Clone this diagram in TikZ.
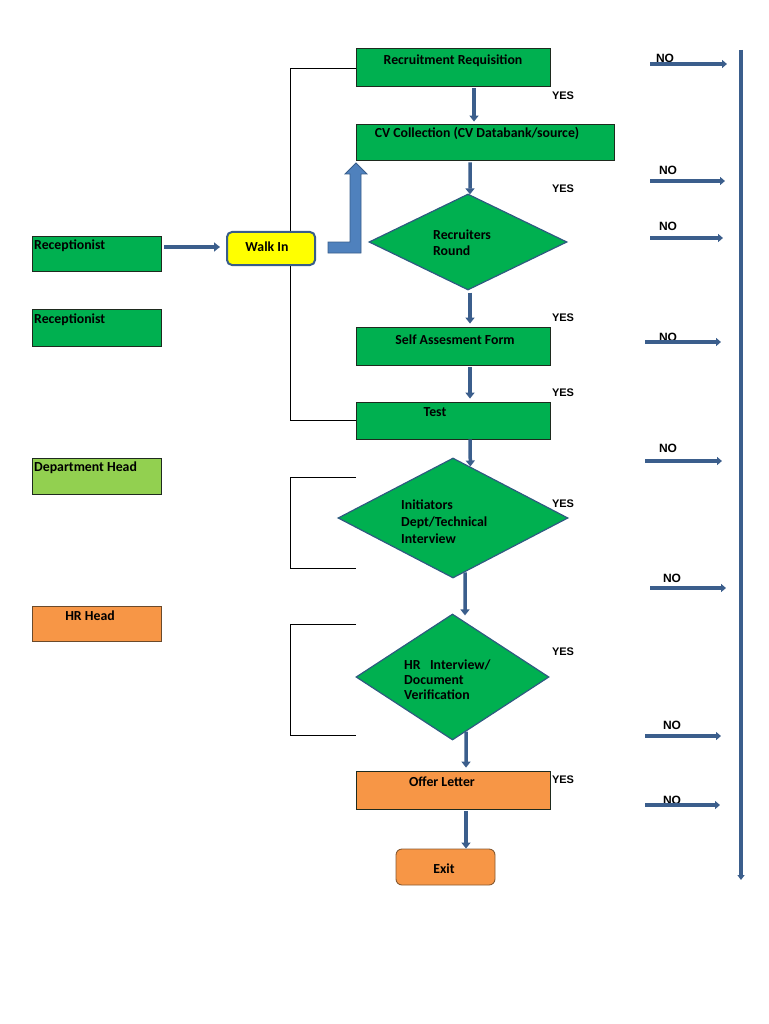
\documentclass[tikz,border=0pt]{standalone}
\usepackage{fontspec}
\setmainfont{Carlito}
\newfontfamily\arialf{Liberation Sans}
\usetikzlibrary{shapes.geometric,arrows.meta,calc,backgrounds}
\definecolor{gr}{HTML}{00B050}
\definecolor{lgr}{HTML}{92D050}
\definecolor{org}{HTML}{F79646}
\definecolor{ylw}{HTML}{FFFF00}
\definecolor{abl}{HTML}{3B5E8C}
\definecolor{bbl}{HTML}{4F81BD}
\definecolor{dbl}{HTML}{385D8A}
\definecolor{boxline}{HTML}{1E2A1E}
\definecolor{dmline}{HTML}{2E5A80}
\definecolor{orline}{HTML}{6B4A2B}
\begin{document}
\begin{tikzpicture}[x=1pt,y=-1pt,
  box/.style={draw=boxline, line width=0.8pt, fill=gr, inner sep=0pt},
  dmd/.style={diamond, draw=dmline, line width=1.2pt, fill=gr, inner sep=0pt, shape aspect=1},
  btxt/.style={font=\bfseries\fontsize{13.8}{16}\selectfont, text=black, inner sep=0pt},
  yes/.style={font=\arialf\bfseries\fontsize{11}{13}\selectfont, inner sep=0pt},
  flow/.style={draw=abl, line width=3.5pt, -{Triangle[width=9pt,length=6pt]}},
  noarr/.style={draw=abl, line width=3.5pt, -{Triangle[width=8pt,length=5pt]}},
  bracket/.style={draw=black, line width=0.9pt}]
\useasboundingbox (0,0) rectangle (768,1024);

% main column boxes
\node[box, minimum width=194pt, minimum height=38pt] (rr) at (453,67) {};
\node[btxt] (rrt) at (453,60.5) {Recruitment Requisition};
\node[box, minimum width=258pt, minimum height=36pt] (cv) at (485,142) {};
\node[btxt] (cvt) at (477,133.5) {CV Collection (CV Databank/source)};
\node[dmd, minimum width=198pt, minimum height=96pt] (rd) at (468,242) {};
\node[btxt, align=left, anchor=north west] (rdt) at (433,229.5) {Recruiters\\Round};
\node[box, minimum width=194pt, minimum height=38pt] (sa) at (453,346) {};
\node[btxt] (sat) at (455,339.5) {Self Assesment Form};
\node[box, minimum width=194pt, minimum height=37pt] (test) at (453,420.5) {};
\node[btxt] (testt) at (435,412.5) {Test};
\node[dmd, minimum width=230pt, minimum height=120pt] (ini) at (453,518) {};
\node[btxt, align=left, anchor=north west, font=\bfseries\fontsize{13.8}{17}\selectfont] (init) at (401,500) {Initiators\\Dept/Technical\\Interview};
\node[dmd, minimum width=193pt, minimum height=126pt] (hr) at (452.5,677) {};
\node[btxt, align=left, anchor=north west, font=\bfseries\fontsize{13.8}{15}\selectfont] (hrt) at (404,660) {HR\ \ \ Interview/\\Document\\Verification};
\node[box, fill=org, minimum width=194pt, minimum height=38pt] (offer) at (453,790) {};
\node[btxt] (offert) at (442,781.5) {Offer Letter};
\node[draw=orline!80!org, line width=0.9pt, fill=org, rounded corners=6pt, minimum width=99pt, minimum height=36pt, inner sep=0pt] (exit) at (445.5,867) {};
\node[btxt] (exitt) at (444,869) {Exit};

% left boxes
\node[box, minimum width=129pt, minimum height=35pt] (rec1) at (96.5,253.5) {};
\node[btxt, anchor=west] (rec1t) at (34,245.5) {Receptionist};
\node[box, minimum width=129pt, minimum height=37pt] (rec2) at (96.5,327.5) {};
\node[btxt, anchor=west] (rec2t) at (34,319.5) {Receptionist};
\node[box, fill=lgr, minimum width=129pt, minimum height=36pt] (dept) at (96.5,476) {};
\node[btxt, anchor=west] (deptt) at (34,467.5) {Department Head};
\node[box, fill=org, draw=orline, minimum width=129pt, minimum height=35pt] (hrh) at (96.5,623.5) {};
\node[btxt] (hrht) at (90,615.5) {HR Head};

% walk in
\node[draw=dbl, line width=2pt, fill=ylw, rounded corners=5pt, minimum width=88pt, minimum height=33pt, inner sep=0pt] (walk) at (271,248.5) {};
\node[btxt] (walkt) at (267,247) {Walk In};

% brackets behind
\begin{scope}[on background layer]
\draw[bracket] (rr.west |- 0,68) -- (290,68) -- (290,420) -- (test.west |- 0,420);
\coordinate (b2a) at (356,477); \coordinate (b2b) at (356,568);
\draw[bracket] (b2a) -- (290,477) -- (290,568) -- (b2b);
\coordinate (b3a) at (356,624); \coordinate (b3b) at (356,735);
\draw[bracket] (b3a) -- (290,624) -- (290,735) -- (b3b);
\end{scope}

% receptionist -> walk in
\draw[flow, shorten <=3pt, shorten >=6pt] (rec1.east |- 0,247) -- (walk.west |- 0,247);

% block arrow walk in -> CV collection
\draw[draw=dbl, line width=0.8pt, fill=bbl] (328,242) -- (350,242) -- (350,174) -- (345,174) -- (356,163) -- (367,174) -- (361,174) -- (361,253) -- (328,253) -- cycle;

% vertical flow arrows
\draw[flow, shorten <=2pt, shorten >=2pt] (rr.south -| 474,0) -- (cv.north -| 474,0);
\draw[flow, shorten <=2pt] (cv.south -| 470,0) -- ($(rd.north)!0.02!(rd.east)$);
\draw[flow, shorten <=2pt, shorten >=3pt] (rd.south -| 470,0) -- (sa.north -| 470,0);
\draw[flow, shorten <=2pt, shorten >=3pt] (sa.south -| 470,0) -- (test.north -| 470,0);
\draw[flow] (test.south -| 470,0) -- ($(ini.north)!0.15!(ini.east)$);
\draw[flow, shorten >=-2pt] ($(ini.south)!0.104!(ini.east)$) -- (hr.north -| 465,0);
\draw[flow, shorten >=3pt] ($(hr.south)!0.14!(hr.east)$) -- (offer.north -| 466,0);
\draw[flow, shorten <=2pt] (offer.south -| 466,0) -- (exit.north -| 466,0);

% YES labels
\node[yes] (y1) at (563,96) {YES};
\node[yes] (y2) at (563,189) {YES};
\node[yes] (y3) at (563,318) {YES};
\node[yes] (y4) at (563,393) {YES};
\node[yes] (y5) at (563,504) {YES};
\node[yes] (y6) at (563,652) {YES};
\node[yes] (y7) at (563,780) {YES};

% right rail
\coordinate (railtop) at (741,50);
\coordinate (railbot) at (741,880);
\draw[draw=abl, line width=3.5pt, -{Triangle[width=7pt,length=5pt]}] (railtop) -- (railbot);

% NO arrows
\foreach \i/\xa/\xb/\ya/\xl/\yl in {1/650/727/64/665/58, 2/650/725/181/668/170, 3/650/723/238/668/226, 4/645/721/342/668/337, 5/645/722/461/668/448, 6/650/726/588/672/578, 7/645/721/736/672/725, 8/645/720/805/672/800}{
  \coordinate (na\i) at (\xa,\ya);
  \coordinate (nb\i) at (\xb,\ya);
  \node[yes, font=\arialf\bfseries\fontsize{12}{14}\selectfont] (no\i) at (\xl,\yl) {NO};
  \draw[noarr] (na\i) -- (nb\i);
}
\end{tikzpicture}
\end{document}
